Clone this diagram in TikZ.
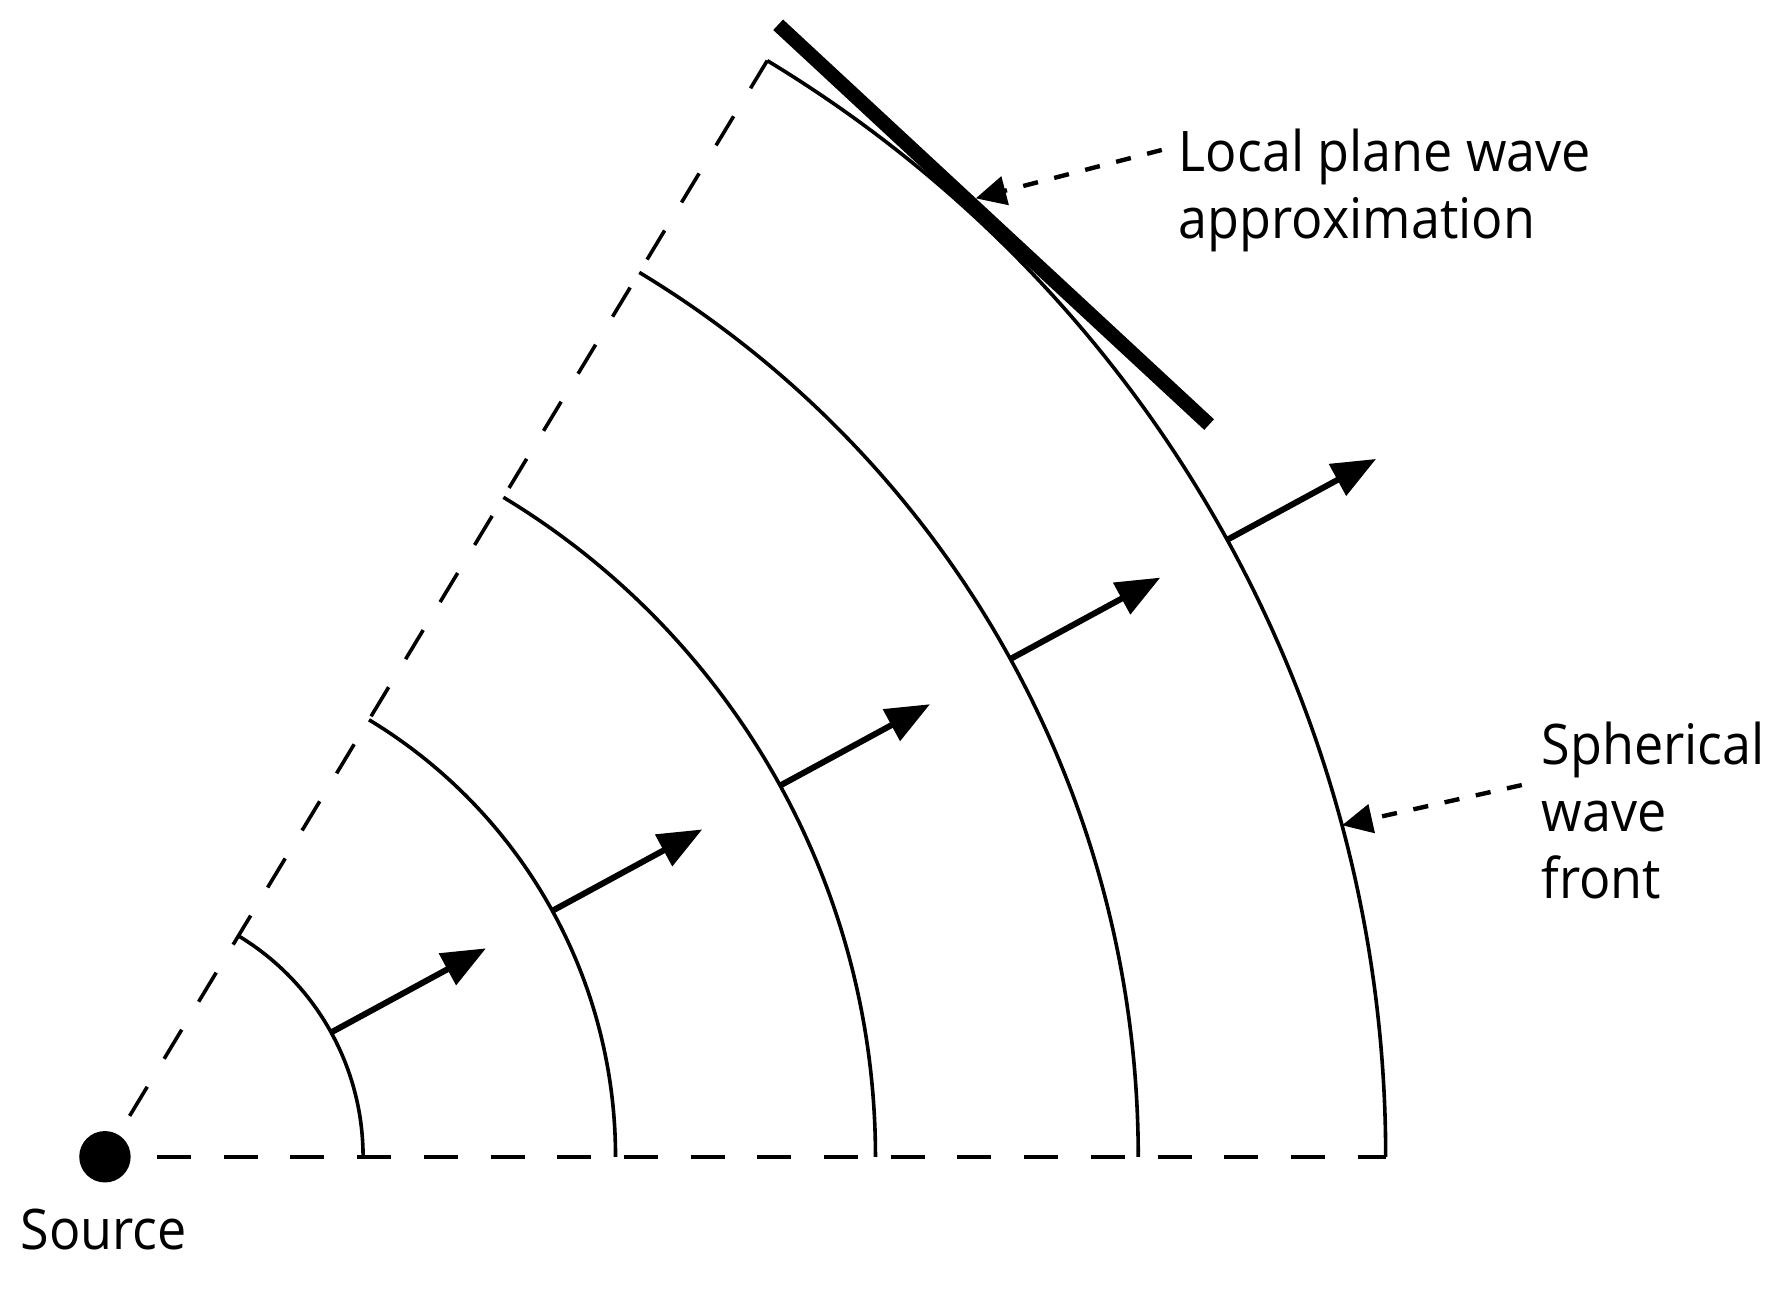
\documentclass[tikz,border=0pt]{standalone}
\usepackage{fontspec}
\setmainfont[FakeStretch=0.93]{Open Sans}
\usetikzlibrary{arrows.meta,calc}
\begin{document}
\begin{tikzpicture}[x=0.01cm,y=0.01cm,
  front/.style={line width=0.9pt},
  ray/.style={line width=0.9pt, dash pattern=on 8.5pt off 8.18pt},
  prop/.style={line width=1.5pt, -{Triangle[length=11pt,width=8.7pt]}},
  plane/.style={line width=3.6pt},
  callout/.style={line width=1.1pt, dash pattern=on 3.8pt off 4.2pt, -{Triangle[length=7.6pt,width=7.2pt]}},
  lbl/.style={inner sep=0pt, anchor=base west, align=left, font=\fontsize{14pt}{16.67pt}\selectfont}
]
\useasboundingbox (-92.3,-125.2) rectangle (1475.7,1017.3);
\node[circle, fill=black, inner sep=0pt, minimum size=0.452cm] (src) at (0,0) {};
\coordinate (h0) at (0:45.8);
\coordinate (h1) at (0:1126.3);
\coordinate (u0) at (58.86:42);
\coordinate (u1) at (58.86:1126.3);
\draw[ray] (h0) -- (h1);
\draw[ray] (u0) -- (u1);
\foreach \r/\n in {227/1,449/2,677.6/3,908.7/4,1126.3/5} {
  \draw[front] (0:\r) arc[start angle=0,end angle=58.86,radius=\r];
  \coordinate (b\n) at (28.8:\r);
}
\draw[prop] (b1) -- ++(28.5:155);
\draw[prop] (b2) -- ++(28.5:150);
\draw[prop] (b3) -- ++(28.5:150);
\draw[prop] (b4) -- ++(28.5:150);
\draw[prop] (b5) -- ++(28.5:149);
\coordinate (pc) at (47.15:1132.5);
\coordinate (pa) at ($(pc)+(137.15:243)$);
\coordinate (pb) at ($(pc)+(-42.85:274)$);
\draw[plane] (pa) -- (pb);
\node[lbl] (plbl) at (943.7,807.7) {Local plane wave\\approximation};
\node[lbl] (slbl) at (1262.7,227.3) {Spherical\\wave\\front};
\node[lbl] (srclbl) at (-75,-81.7) {Source};
\coordinate (c1s) at (929.4,885.4);
\coordinate (c1t) at ($(47.15:1138.75)+(137.15:11.8)$);
\draw[callout] (c1s) -- (c1t);
\coordinate (c2s) at (1246,326.9);
\coordinate (c2t) at (15:1126.3);
\draw[callout] (c2s) -- (c2t);
\end{tikzpicture}
\end{document}
